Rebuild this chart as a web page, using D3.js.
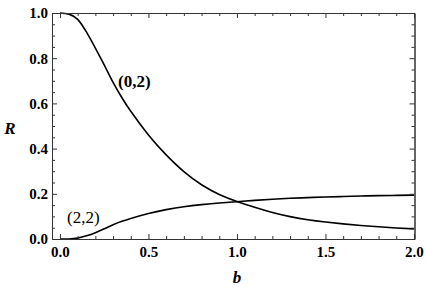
<!DOCTYPE html>
<html>
<head>
<meta charset="utf-8">
<script src="https://cdn.jsdelivr.net/npm/d3@7"></script>
<style>
  body { margin: 0; background: #fff; }
</style>
</head>
<body>
<div id="chart"></div>
<script>
// Values
const bValues = [0, 0.05, 0.1, 0.15, 0.2, 0.25, 0.3, 0.35, 0.4, 0.5, 0.6, 0.7, 0.8, 0.9, 1.0, 1.1, 1.2, 1.3, 1.4, 1.5, 1.6, 1.7, 1.8, 1.9, 2.0];
const r02 = [1.0, 0.995, 0.972, 0.915, 0.845, 0.77, 0.693, 0.625, 0.565, 0.46, 0.372, 0.298, 0.24, 0.197, 0.166, 0.14, 0.117, 0.099, 0.085, 0.075, 0.067, 0.06, 0.054, 0.049, 0.045];
const r22 = [0, 0.0, 0.004, 0.014, 0.028, 0.045, 0.063, 0.078, 0.091, 0.113, 0.13, 0.143, 0.152, 0.159, 0.165, 0.171, 0.176, 0.18, 0.183, 0.186, 0.188, 0.19, 0.192, 0.193, 0.194];
const xTicks = [0, 0.5, 1, 1.5, 2];
const yTicks = [0, 0.2, 0.4, 0.6, 0.8, 1.0];

const width = 427, height = 287;
const plotLeft = 52, plotRight = 414.5, plotTop = 13, plotBottom = 239;
const serif = "'Liberation Serif', 'Times New Roman', 'DejaVu Serif', serif";

const svg = d3.select("#chart").append("svg")
  .attr("width", width)
  .attr("height", height);

const x = d3.scaleLinear().domain([-0.045, 2.003]).range([plotLeft, plotRight]);
const y = d3.scaleLinear().domain([0, 1]).range([plotBottom, plotTop]);

const xMinor = d3.range(0, 20.5, 1).map(d => d / 10).filter(d => !xTicks.some(t => Math.abs(t - d) < 1e-6));
const yMinor = d3.range(0, 20.5, 1).map(d => d / 20).filter(d => !yTicks.some(t => Math.abs(t - d) < 1e-6));

const tickColor = "#333";

// curves
const line = d3.line()
  .x((d, i) => x(bValues[i]))
  .y(d => y(d))
  .curve(d3.curveNatural);

svg.append("clipPath").attr("id", "clip")
  .append("rect")
  .attr("x", plotLeft).attr("y", plotTop - 1)
  .attr("width", plotRight - plotLeft).attr("height", plotBottom - plotTop + 1);

[r02, r22].forEach(series => {
  svg.append("path")
    .datum(series)
    .attr("clip-path", "url(#clip)")
    .attr("fill", "none")
    .attr("stroke", "#000")
    .attr("stroke-width", 1.6)
    .attr("d", line);
});

// frame axes with inward ticks
function frameAxis(axisFn, scale, ticks, size, labels, transform) {
  const g = svg.append("g")
    .attr("transform", transform)
    .call(axisFn(scale).tickValues(ticks).tickSize(size).tickSizeOuter(0)
      .tickFormat(labels ? d3.format(".1f") : ""));
  g.select(".domain").attr("stroke", tickColor);
  g.selectAll(".tick line").attr("stroke", tickColor);
  return g;
}

// bottom
const gb = frameAxis(d3.axisBottom, x, xTicks, -5, true, `translate(0,${plotBottom})`);
gb.selectAll(".tick text").attr("y", 7).attr("dy", "0.71em");
frameAxis(d3.axisBottom, x, xMinor, -3, false, `translate(0,${plotBottom})`);
// top
frameAxis(d3.axisTop, x, xTicks, -5, false, `translate(0,${plotTop})`);
frameAxis(d3.axisTop, x, xMinor, -3, false, `translate(0,${plotTop})`);
// left
const gl = frameAxis(d3.axisLeft, y, yTicks, -5, true, `translate(${plotLeft},0)`);
gl.selectAll(".tick text").attr("x", -4);
frameAxis(d3.axisLeft, y, yMinor, -3, false, `translate(${plotLeft},0)`);
// right
frameAxis(d3.axisRight, y, yTicks, -5, false, `translate(${plotRight},0)`);
frameAxis(d3.axisRight, y, yMinor, -3, false, `translate(${plotRight},0)`);

svg.selectAll(".tick text")
  .style("font-family", serif)
  .style("font-size", "15px")
  .style("font-weight", "bold")
  .attr("fill", "#000");

// axis titles
svg.append("text")
  .attr("x", x(1))
  .attr("y", 283)
  .attr("text-anchor", "middle")
  .style("font-family", serif)
  .style("font-size", "17px")
  .style("font-weight", "bold")
  .style("font-style", "italic")
  .text("b");

svg.append("text")
  .attr("x", 10)
  .attr("y", 134)
  .attr("text-anchor", "middle")
  .style("font-family", serif)
  .style("font-size", "17px")
  .style("font-weight", "bold")
  .style("font-style", "italic")
  .text("R");

// curve labels
svg.append("text")
  .attr("x", 118)
  .attr("y", 87)
  .attr("fill", "#000")
  .style("font-family", serif)
  .style("font-size", "17px")
  .style("font-weight", "bold")
  .text("(0,2)");

svg.append("text")
  .attr("x", 67)
  .attr("y", 223)
  .attr("fill", "#000")
  .style("font-family", serif)
  .style("font-size", "17px")
  .text("(2,2)");
</script>
</body>
</html>
